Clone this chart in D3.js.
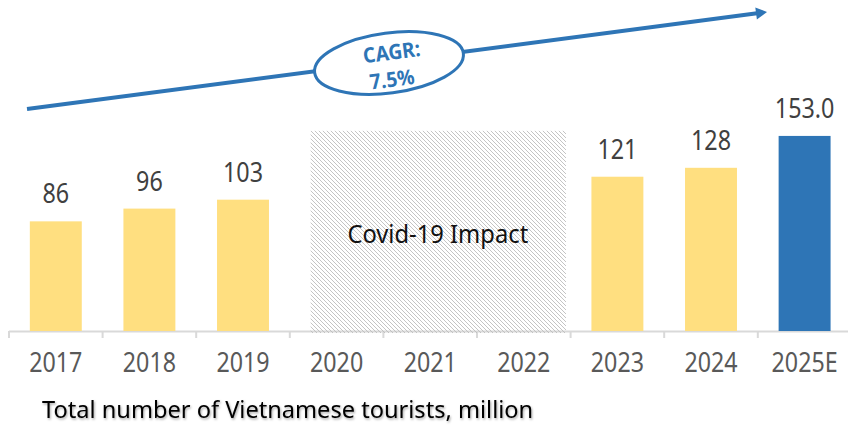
<!DOCTYPE html>
<html>
<head>
<meta charset="utf-8">
<script src="https://cdn.jsdelivr.net/npm/d3@7/dist/d3.min.js"></script>
<style>
  html, body { margin: 0; padding: 0; background: #fff; }
  svg { display: block; }
  text { font-family: "Noto Sans", "Open Sans", sans-serif; }
</style>
</head>
<body>
<svg id="chart" width="848" height="426"></svg>
<script>
// ---- data ----
const years = ["2017", "2018", "2019", "2020", "2021", "2022", "2023", "2024", "2025E"];
const values = [86, 96, 103, null, null, null, 121, 128, 153.0];
const valueLabels = ["86", "96", "103", "", "", "", "121", "128", "153.0"];
const barKinds = ["actual", "actual", "actual", "", "", "", "actual", "actual", "estimate"];
const covidYears = ["2020", "2021", "2022"];
const covidLevel = 157;
const covidLabel = "Covid-19 Impact";
const cagrLines = ["CAGR:", "7.5%"];
const chartTitle = "Total number of Vietnamese tourists, million";

const colors = { actual: "#FFDF80", estimate: "#2E75B6" };
const blue = "#2E75B6";

const svg = d3.select("#chart");
const baseY = 331;

const x = d3.scaleBand().domain(years).range([9, 851.4]).paddingInner(0).paddingOuter(0);
const y = d3.scaleLinear().domain([0, 200]).range([baseY, baseY - 255]);
const bw = x.bandwidth();
const barW = bw * 0.555;

const defs = svg.append("defs");
const pat = defs.append("pattern").attr("id", "hatch")
  .attr("patternUnits", "userSpaceOnUse").attr("width", 4).attr("height", 4);
pat.append("path").attr("d", "M-1,-1 L5,5 M3,-1 L5,1 M-1,3 L1,5")
  .attr("stroke", "#BDBDBD").attr("stroke-width", 0.9);
const shadow = defs.append("filter").attr("id", "shadow")
  .attr("x", "-5%").attr("y", "-20%").attr("width", "110%").attr("height", "150%");
shadow.append("feDropShadow").attr("dx", 1).attr("dy", 1.5).attr("stdDeviation", 1)
  .attr("flood-color", "#000").attr("flood-opacity", 0.35);

// axis line (domain) and boundary ticks
svg.append("line")
  .attr("x1", x.range()[0]).attr("x2", x.range()[1])
  .attr("y1", baseY + 0.5).attr("y2", baseY + 0.5)
  .attr("stroke", "#D9D9D9").attr("stroke-width", 2);
const bounds = years.map(d => x(d)).concat([x.range()[1]]);
svg.selectAll("line.btick").data(bounds).join("line").attr("class", "btick")
  .attr("x1", d => d).attr("x2", d => d)
  .attr("y1", baseY).attr("y2", baseY + 7)
  .attr("stroke", "#D9D9D9").attr("stroke-width", 2);

// bars
const barData = years.map((d, i) => ({ year: d, value: values[i], label: valueLabels[i], kind: barKinds[i] }))
  .filter(d => d.value != null);
svg.selectAll("rect.bar").data(barData).join("rect").attr("class", "bar")
  .attr("x", d => x(d.year) + (bw - barW) / 2)
  .attr("width", barW)
  .attr("y", d => y(d.value))
  .attr("height", d => y(0) - y(d.value))
  .attr("fill", d => colors[d.kind]);

svg.selectAll("text.vlabel").data(barData).join("text").attr("class", "vlabel")
  .attr("transform", d => `translate(${x(d.year) + bw / 2},${y(d.value) - 18}) scale(0.88,1)`)
  .attr("text-anchor", "middle")
  .attr("font-size", 26.5)
  .attr("fill", "#404040")
  .text(d => d.label);

// covid hatched area
const cx0 = x(covidYears[0]) + (bw - barW) / 2;
const cx1 = x(covidYears[covidYears.length - 1]) + bw - 4.6;
svg.append("rect")
  .attr("x", cx0).attr("width", cx1 - cx0)
  .attr("y", y(covidLevel)).attr("height", y(0) - y(covidLevel) + 2)
  .attr("fill", "url(#hatch)");
svg.append("text")
  .attr("transform", `translate(${(cx0 + cx1) / 2 - 0.5},243) scale(0.95,1)`)
  .attr("text-anchor", "middle")
  .attr("font-size", 25)
  .attr("fill", "#111")
  .text(covidLabel);

// x axis labels
const axis = d3.axisBottom(x).tickSize(0).tickSizeOuter(0);
const gAxis = svg.append("g").attr("transform", `translate(0,${baseY})`).call(axis);
gAxis.select(".domain").remove();
gAxis.selectAll("text")
  .attr("y", 0).attr("dy", 0)
  .attr("transform", "translate(0,41) scale(0.83,1)")
  .attr("font-size", 28)
  .attr("fill", "#595959");
gAxis.attr("font-family", null);

// CAGR arrow
const p0 = [27, 109], p1 = [767, 12];
const ang = Math.atan2(p1[1] - p0[1], p1[0] - p0[0]);
const headLen = 11, headW = 6;
const lineEnd = [p1[0] - headLen * Math.cos(ang), p1[1] - headLen * Math.sin(ang)];
svg.append("line")
  .attr("x1", p0[0]).attr("y1", p0[1]).attr("x2", lineEnd[0] + Math.cos(ang)).attr("y2", lineEnd[1] + Math.sin(ang))
  .attr("stroke", blue).attr("stroke-width", 4);
const nx = -Math.sin(ang), ny = Math.cos(ang);
svg.append("path")
  .attr("d", `M${p1[0]},${p1[1]} L${lineEnd[0] + nx * headW},${lineEnd[1] + ny * headW} L${lineEnd[0] - nx * headW},${lineEnd[1] - ny * headW} Z`)
  .attr("fill", blue);

const ec = [389, 63];
const deg = ang * 180 / Math.PI;
svg.append("ellipse")
  .attr("cx", 0).attr("cy", 0).attr("rx", 75).attr("ry", 30)
  .attr("transform", `translate(${ec[0]},${ec[1]}) rotate(${deg})`)
  .attr("fill", "#fff").attr("stroke", blue).attr("stroke-width", 3);
const cg = svg.append("g").attr("transform", `translate(${ec[0]},${ec[1]}) rotate(${deg})`);
cg.selectAll("text").data(cagrLines).join("text")
  .attr("transform", (d, i) => `translate(${i === 0 ? 4 : 1},${i === 0 ? -3 : 24}) scale(0.92,1)`)
  .attr("text-anchor", "middle")
  .attr("font-size", 21)
  .attr("font-weight", "bold")
  .attr("fill", blue)
  .text(d => d);

// title
svg.append("text")
  .attr("x", 42).attr("y", 418)
  .attr("font-size", 23.6)
  .attr("fill", "#000")
  .attr("filter", "url(#shadow)")
  .text(chartTitle);
</script>
</body>
</html>
